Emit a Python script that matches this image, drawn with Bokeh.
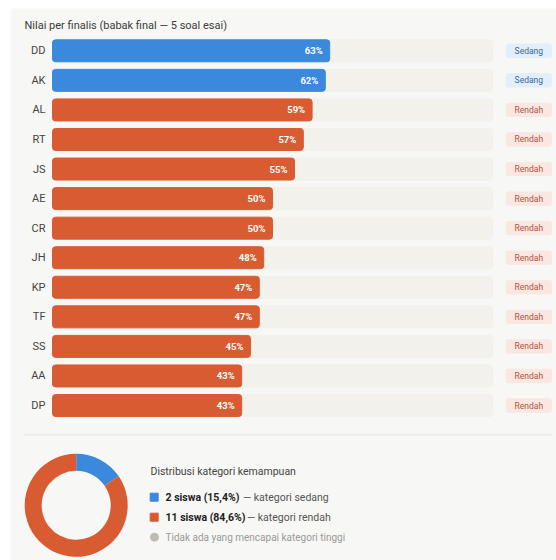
from math import pi
from bokeh.plotting import figure
from bokeh.models import Range1d, ColumnDataSource
from bokeh.core.properties import value
from bokeh.embed import file_html
from bokeh.resources import INLINE

# ---------------- data ----------------
names = ["DD", "AK", "AL", "RT", "JS", "AE", "CR", "JH", "KP", "TF", "SS", "AA", "DP"]
scores = [63, 62, 59, 57, 55, 50, 50, 48, 47, 47, 45, 43, 43]
levels = ["Sedang", "Sedang", "Rendah", "Rendah", "Rendah", "Rendah", "Rendah",
          "Rendah", "Rendah", "Rendah", "Rendah", "Rendah", "Rendah"]
dist_counts = [2, 11]
dist_bold = ["2 siswa (15,4%)", "11 siswa (84,6%)"]
dist_text = ["— kategori sedang", "— kategori rendah"]
dist_none = "Tidak ada yang mencapai kategori tinggi"
title_text = "Nilai per finalis (babak final — 5 soal esai)"
dist_title = "Distribusi kategori kemampuan"

# ---------------- style ----------------
FONT = "Roboto"
PANEL = "#f7f7f5"
TRACK = "#f2f1eb"
BLUE = "#3a89dd"
ORANGE = "#d95b32"
BAR_COL = {"Sedang": BLUE, "Rendah": ORANGE}
BADGE_BG = {"Sedang": "#e2eefb", "Rendah": "#fbe7e2"}
BADGE_FG = {"Sedang": "#3b6797", "Rendah": "#b0533d"}

# layout: pixel geometry of the scales
PX_ZERO = 52.0      # pixel x of 0 %
PX_PER_PCT = 4.40   # pixels per percent
PY_ROW0 = 50.3      # pixel y of first row
PY_PER_ROW = 29.56  # pixels per row

def dx(px):
    return (px - PX_ZERO) / PX_PER_PCT

def dy(py):
    return (py - PY_ROW0) / PY_PER_ROW

W, H = 556, 560
p = figure(width=W, height=H, output_backend="svg", toolbar_location=None,
           x_axis_type=None, y_axis_type=None,
           x_range=Range1d(dx(10), dx(W)), y_range=Range1d(dy(H), dy(8)),
           min_border_left=10, min_border_top=8, min_border_right=0, min_border_bottom=0)
p.grid.visible = False
p.outline_line_color = None
p.background_fill_color = PANEL
p.border_fill_color = "white"

rows = list(range(len(names)))
bar_h = 22 / PY_PER_ROW
src = ColumnDataSource(dict(
    y=rows, name=names, score=scores, level=levels,
    full=[100] * len(names),
    color=[BAR_COL[l] for l in levels],
    label=[f"{s}%" for s in scores],
    lab_x=[s - 7 / PX_PER_PCT for s in scores],
    bbg=[BADGE_BG[l] for l in levels],
    bfg=[BADGE_FG[l] for l in levels],
    btop=[r - 6.7 / PY_PER_ROW for r in rows],
    bbot=[r + 6.7 / PY_PER_ROW for r in rows],
))

# title
p.text(x=[dx(24)], y=[dy(24.5)], text=[title_text], text_font=value(FONT),
       text_font_size="11px", text_color="#3c3c3c", text_baseline="middle", text_align="left")

# tracks and bars
p.hbar(y="y", left=0, right="full", height=bar_h, color=TRACK, source=src, border_radius=3)
p.hbar(y="y", left=0, right="score", height=bar_h, color="color", source=src, border_radius=3)

# name labels
p.text(x=dx(45), y="y", text="name", source=src, text_font=value(FONT), text_font_size="11px",
       text_color="#444444", text_align="right", text_baseline="middle")
# value labels
p.text(x="lab_x", y="y", text="label", source=src, text_font=value(FONT), text_font_size="9.5px",
       text_font_style="bold", text_color="white", text_align="right", text_baseline="middle")

# badges
p.quad(left=dx(505.7), right=dx(551), top="btop", bottom="bbot", color="bbg", source=src,
       border_radius=2)
p.text(x=dx(528.3), y="y", text="level", source=src, text_font=value(FONT), text_font_size="8.5px",
       text_color="bfg", text_align="center", text_baseline="middle")

# separator
p.segment(x0=[dx(24)], x1=[dx(551)], y0=[dy(434.3)], y1=[dy(434.3)], line_color="#e6e5e1",
          line_width=1)

# donut
total = sum(dist_counts)
starts, ends = [], []
acc = 0
for c in dist_counts:
    starts.append(pi / 2 - 2 * pi * acc / total)
    acc += c
    ends.append(pi / 2 - 2 * pi * acc / total)
p.annular_wedge(x=dx(75.7), y=dy(504.8), inner_radius=34.5, outer_radius=51.5,
                inner_radius_units="screen", outer_radius_units="screen",
                start_angle=starts, end_angle=ends, direction="clock",
                color=[BLUE, ORANGE], line_color=None)

# distribution legend
p.text(x=[dx(150)], y=[dy(470.7)], text=[dist_title], text_font=value(FONT), text_font_size="10.5px",
       text_color="#444444", text_baseline="middle", text_align="left")
leg_y = [dy(496.7), dy(516.7)]
p.scatter(x=[dx(153.7)] * 2, y=leg_y, marker="square", size=8, color=[BLUE, ORANGE])
p.text(x=[dx(165)] * 2, y=leg_y, text=dist_bold, text_font=value(FONT), text_font_size="10.5px",
       text_font_style="bold", text_color="#222222", text_baseline="middle", text_align="left")
p.text(x=[dx(242.5), dx(246.5)], y=leg_y, text=dist_text, text_font=value(FONT),
       text_font_size="10.5px", text_color="#555555", text_baseline="middle", text_align="left")
p.scatter(x=[dx(154)], y=[dy(536.7)], marker="circle", size=8, color="#bdbab2")
p.text(x=[dx(165)], y=[dy(536.7)], text=[dist_none], text_font=value(FONT), text_font_size="10px",
       text_color="#9a9a9a", text_baseline="middle", text_align="left")

open("out.html", "w").write(file_html(p, INLINE))
